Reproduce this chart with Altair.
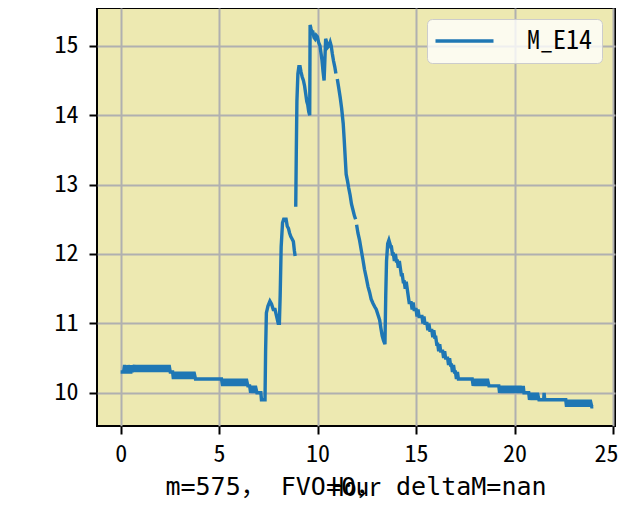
import altair as alt
import pandas as pd

# ---- data (hour, value), split where the trace has gaps ----
seg1_hour = [0.00, 0.15, 0.20, 0.25, 0.35, 0.38, 0.42, 0.52, 0.55, 0.60,
             0.70, 0.78, 0.86, 0.94, 1.02, 1.10, 1.18, 1.26, 1.34, 1.42,
             1.50, 1.58, 1.66, 1.74, 1.82, 1.90, 1.98, 2.06, 2.14, 2.22,
             2.30, 2.38, 2.46, 2.52, 2.64, 2.68, 2.76, 2.84, 2.92, 3.00,
             3.08, 3.16, 3.24, 3.32, 3.40, 3.48, 3.56, 3.64, 3.72, 3.80,
             5.12, 5.18, 5.26, 5.34, 5.42, 5.50, 5.58, 5.66, 5.74, 5.82,
             5.90, 5.98, 6.06, 6.14, 6.22, 6.30, 6.38, 6.46, 6.55, 6.60,
             6.68, 6.76, 6.84, 6.92, 7.12, 7.15, 7.33, 7.36, 7.40, 7.48,
             7.58, 7.66, 7.75, 7.84, 7.92, 8.00, 8.06, 8.10, 8.15, 8.22,
             8.28, 8.40, 8.46, 8.52, 8.58, 8.64, 8.70, 8.77, 8.82, 8.86]
seg1_value = [10.3, 10.3, 10.4, 10.3, 10.3, 10.4, 10.3, 10.3, 10.4, 10.3,
              10.4, 10.3, 10.4, 10.3, 10.4, 10.3, 10.4, 10.3, 10.4, 10.3,
              10.4, 10.3, 10.4, 10.3, 10.4, 10.3, 10.4, 10.3, 10.4, 10.3,
              10.4, 10.3, 10.4, 10.3, 10.3, 10.2, 10.3, 10.2, 10.3, 10.2,
              10.3, 10.2, 10.3, 10.2, 10.3, 10.2, 10.3, 10.2, 10.3, 10.2,
              10.2, 10.1, 10.2, 10.1, 10.2, 10.1, 10.2, 10.1, 10.2, 10.1,
              10.2, 10.1, 10.2, 10.1, 10.2, 10.1, 10.2, 10.1, 10.1, 10.0,
              10.1, 10.0, 10.1, 10.0, 10.0, 9.9, 9.9, 10.6, 11.15, 11.25,
              11.32, 11.28, 11.2, 11.2, 11.1, 11.0, 11.0, 11.4, 12.1, 12.45,
              12.5, 12.5, 12.4, 12.37, 12.3, 12.25, 12.22, 12.18, 12.05, 11.97]

seg2_hour = [8.89, 8.92, 8.95, 9.00, 9.05, 9.11, 9.16, 9.22, 9.28, 9.34,
             9.40, 9.45, 9.50, 9.55, 9.60, 9.62, 9.66, 9.71, 9.76, 9.82,
             9.87, 9.93, 9.99, 10.05, 10.12, 10.17, 10.22, 10.28, 10.33, 10.37,
             10.41, 10.46, 10.52, 10.58, 10.64, 10.69, 10.75, 10.81, 10.87, 10.93]
seg2_value = [12.68, 13.5, 14.2, 14.6, 14.7, 14.7, 14.62, 14.55, 14.5, 14.42,
              14.3, 14.2, 14.15, 14.05, 14.0, 15.3, 15.25, 15.2, 15.2, 15.12,
              15.1, 15.15, 15.13, 15.05, 15.0, 14.9, 14.8, 14.62, 14.5, 14.8,
              15.1, 15.05, 14.98, 15.0, 15.05, 15.0, 14.88, 14.78, 14.7, 14.6]

seg3_hour = [11.00, 11.07, 11.15, 11.22, 11.30, 11.35, 11.40, 11.45, 11.52, 11.58,
             11.65, 11.72, 11.80, 11.87, 11.93]
seg3_value = [14.52, 14.4, 14.25, 14.1, 13.88, 13.65, 13.4, 13.15, 13.05, 12.95,
              12.85, 12.72, 12.63, 12.55, 12.5]

seg4_hour = [11.98, 12.05, 12.13, 12.22, 12.30, 12.38, 12.47, 12.56, 12.64, 12.72,
             12.81, 12.90, 12.98, 13.07, 13.15, 13.22, 13.28, 13.35, 13.42, 13.46,
             13.50, 13.56, 13.62, 13.67, 13.72, 13.75, 13.80, 13.85, 13.90, 13.95,
             14.00, 14.05, 14.10, 14.15, 14.20, 14.25, 14.30, 14.35, 14.40, 14.45,
             14.50, 14.55, 14.60, 14.65, 14.70, 14.75, 14.80, 14.85, 14.90, 14.95,
             15.00, 15.05, 15.10, 15.15, 15.20, 15.30, 15.35, 15.40, 15.45, 15.55,
             15.60, 15.65, 15.70, 15.80, 15.85, 15.90, 15.95, 16.00, 16.05, 16.10,
             16.15, 16.20, 16.25, 16.35, 16.40, 16.45, 16.50, 16.60, 16.65, 16.70,
             16.75, 16.80, 16.85, 16.90, 16.95, 17.00, 17.05, 17.10, 17.15, 17.85,
             17.90, 17.98, 18.06, 18.14, 18.22, 18.30, 18.38, 18.46, 18.54, 18.62,
             18.70, 18.78, 19.20, 19.24, 19.32, 19.40, 19.48, 19.56, 19.64, 19.72,
             19.80, 19.88, 19.96, 20.04, 20.12, 20.20, 20.28, 20.36, 20.44, 20.48,
             20.72, 20.76, 20.84, 20.92, 21.00, 21.08, 21.16, 21.24, 21.32, 21.48,
             21.50, 21.53, 22.60, 22.64, 22.72, 22.80, 22.88, 22.96, 23.04, 23.12,
             23.20, 23.28, 23.36, 23.44, 23.52, 23.60, 23.68, 23.76, 23.84, 23.92,
             24.00]
seg4_value = [12.42, 12.3, 12.2, 12.05, 11.92, 11.78, 11.66, 11.53, 11.45, 11.35,
              11.29, 11.24, 11.2, 11.12, 11.05, 10.92, 10.82, 10.75, 10.7, 11.4,
              11.9, 12.15, 12.2, 12.15, 12.1, 12.1, 12.0, 12.0, 11.9, 12.0,
              11.9, 11.9, 11.8, 11.9, 11.8, 11.7, 11.7, 11.6, 11.6, 11.5,
              11.6, 11.5, 11.4, 11.3, 11.3, 11.3, 11.2, 11.3, 11.2, 11.2,
              11.2, 11.1, 11.2, 11.1, 11.1, 11.1, 11.0, 11.1, 11.0, 11.0,
              10.9, 11.0, 10.9, 10.9, 10.8, 10.9, 10.8, 10.8, 10.7, 10.7,
              10.6, 10.7, 10.6, 10.6, 10.5, 10.6, 10.5, 10.5, 10.4, 10.5,
              10.4, 10.4, 10.3, 10.4, 10.3, 10.3, 10.2, 10.3, 10.2, 10.2,
              10.1, 10.2, 10.1, 10.2, 10.1, 10.2, 10.1, 10.2, 10.1, 10.2,
              10.1, 10.1, 10.1, 10.0, 10.1, 10.0, 10.1, 10.0, 10.1, 10.0,
              10.1, 10.0, 10.1, 10.0, 10.1, 10.0, 10.1, 10.0, 10.1, 10.0,
              10.0, 9.9, 10.0, 9.9, 10.0, 9.9, 10.0, 9.9, 9.9, 9.9,
              10.0, 9.9, 9.9, 9.8, 9.9, 9.8, 9.9, 9.8, 9.9, 9.8,
              9.9, 9.8, 9.9, 9.8, 9.9, 9.8, 9.9, 9.8, 9.9, 9.8,
              9.8]

series_name = "M_E14"
x_ticks = [0, 5, 10, 15, 20, 25]
y_ticks = [10, 11, 12, 13, 14, 15]
x_title = "Hour"
bottom_text = "m=575， FVO=0， deltaM=nan"

segments = [(seg1_hour, seg1_value), (seg2_hour, seg2_value),
            (seg3_hour, seg3_value), (seg4_hour, seg4_value)]
rows = []
for i, (hs, vs) in enumerate(segments):
    for h, v in zip(hs, vs):
        rows.append({"hour": h, "value": v, "segment": i, "series": series_name})
df = pd.DataFrame(rows)

FONT = "Noto Sans Mono CJK JP, DejaVu Sans Mono, monospace"
FONT2 = "DejaVu Sans Mono, Noto Sans Mono CJK JP, monospace"

chart = alt.Chart(df).mark_line(strokeWidth=3.4).encode(
    x=alt.X("hour:Q",
            scale=alt.Scale(domain=[-1.2, 25.1], nice=False, zero=False),
            axis=alt.Axis(values=x_ticks, format="d", title=x_title,
                          labelPadding=8, labelFlush=6, labelFlushOffset=5,
                          titleY=69, titleBaseline="alphabetic", titleFontSize=25)),
    y=alt.Y("value:Q",
            scale=alt.Scale(domain=[9.522, 15.544], nice=False, zero=False),
            axis=alt.Axis(values=y_ticks, format="d", title=None, labelPadding=11)),
    color=alt.Color("series:N", scale=alt.Scale(range=["#1f77b4"]),
                    legend=alt.Legend(title=None, orient="none", legendX=330, legendY=11,
                                      symbolType="M-1.35,0H4.45", symbolSize=400,
                                      symbolStrokeWidth=3.4, labelFont=FONT,
                                      labelFontSize=26, labelOffset=65, padding=9,
                                      fillColor="rgba(255,255,255,0.8)",
                                      strokeColor="#cccccc", cornerRadius=5,
                                      labelColor="black")),
    detail="segment:N",
).properties(
    width=518, height=418,
    autosize=alt.AutoSizeParams(type="none"),
    padding={"left": 89, "top": 0, "right": 5, "bottom": 74},
    title=alt.TitleParams(bottom_text, orient="bottom", anchor="middle", font=FONT2,
                          fontSize=25, fontWeight="normal", offset=-5,
                          baseline="alphabetic", color="black"),
).configure_view(
    fill="#EDE9B1", stroke="black", strokeWidth=2
).configure_axis(
    gridColor="#b0b0b0", gridWidth=2, gridOpacity=1, domain=False,
    tickColor="black", tickWidth=2, tickSize=8,
    labelFont=FONT, labelFontSize=24, labelColor="black",
    titleFont=FONT, titleFontWeight="normal", titleColor="black",
)

chart.save("out.html", embed_options={"renderer": "svg", "actions": False})
